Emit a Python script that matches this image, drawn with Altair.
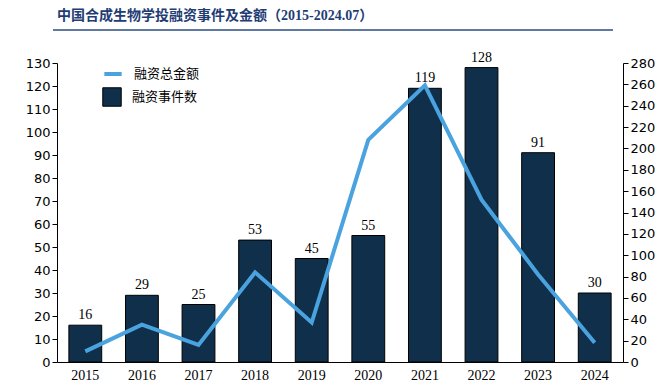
import altair as alt
import pandas as pd

years = ["2015", "2016", "2017", "2018", "2019", "2020", "2021", "2022", "2023", "2024"]
events = [16, 29, 25, 53, 45, 55, 119, 128, 91, 30]
amounts = [10, 35, 16, 84, 37, 208, 259, 152, 82, 18]
title_text = "中国合成生物学投融资事件及金额（2015-2024.07）"

df = pd.DataFrame({"year": years, "events": events, "amount": amounts,
                   "s1": "融资事件数", "s2": "融资总金额"})

CJK = "Noto Sans CJK SC"
SERIF = "Liberation Serif"
NUM = "DejaVu Sans"

x = alt.X("year:N", title=None,
          scale=alt.Scale(paddingInner=0.42, paddingOuter=0.21),
          axis=alt.Axis(labelAngle=0, ticks=False, domainColor="black", labelColor="black",
                        labelFont=SERIF, labelFontSize=14, labelPadding=6))

base = alt.Chart(df)

yleft = alt.Y("events:Q", title=None,
              scale=alt.Scale(domain=[0, 130], nice=False),
              axis=alt.Axis(orient="left", values=list(range(0, 131, 10)), grid=False,
                            domainColor="black", tickColor="black", tickSize=5,
                            labelColor="black", labelFont=NUM, labelFontSize=13))

bars = base.mark_bar(stroke="black", strokeWidth=1).encode(
    x=x,
    y=yleft,
    fill=alt.Fill("s1:N", scale=alt.Scale(range=["#0f2f4a"]),
                  legend=alt.Legend(title=None, orient="none", legendX=45, legendY=24,
                                    symbolType="square", symbolSize=340, symbolStrokeColor="black",
                                    symbolStrokeWidth=1, labelFont=CJK, labelFontSize=13,
                                    labelColor="black", labelOffset=10)),
)

labels = base.mark_text(dy=-6, baseline="alphabetic", font=SERIF, fontSize=14, color="black").encode(
    x=x,
    y=yleft,
    text="events:Q",
)

left = alt.layer(bars, labels)

line = base.mark_line(strokeWidth=4).encode(
    x=x,
    y=alt.Y("amount:Q", title=None,
            scale=alt.Scale(domain=[0, 280], nice=False),
            axis=alt.Axis(orient="right", values=list(range(0, 281, 20)), grid=False,
                          domainColor="black", tickColor="black", tickSize=5,
                          labelColor="black", labelFont=NUM, labelFontSize=13)),
    stroke=alt.Stroke("s2:N", scale=alt.Scale(range=["#4aa3df"]),
                      legend=alt.Legend(title=None, orient="none", legendX=45, legendY=0,
                                        symbolStrokeWidth=4, symbolSize=300,
                                        labelFont=CJK, labelFontSize=13,
                                        labelColor="black", labelOffset=10)),
)

deco = alt.Chart(pd.DataFrame({"t": [title_text]}))
underline = deco.mark_rule(color="#2b4c80", strokeWidth=1.5).encode(
    x=alt.value(-4), x2=alt.value(556), y=alt.value(-33))
title = deco.mark_text(align="left", baseline="middle", font="Liberation Serif, Noto Sans CJK SC",
                       fontSize=14, fontWeight="bold", color="#1f3c74").encode(
    x=alt.value(0), y=alt.value(-47), text="t:N")

chart = alt.layer(left, line, underline, title).resolve_scale(y="independent").properties(
    width=566, height=299,
    autosize=alt.AutoSizeParams(type="none"),
    padding={"left": 49, "top": 55, "right": 36, "bottom": 26},
).configure_view(stroke=None)

chart.save("out.html", embed_options={"renderer": "svg", "actions": False})
